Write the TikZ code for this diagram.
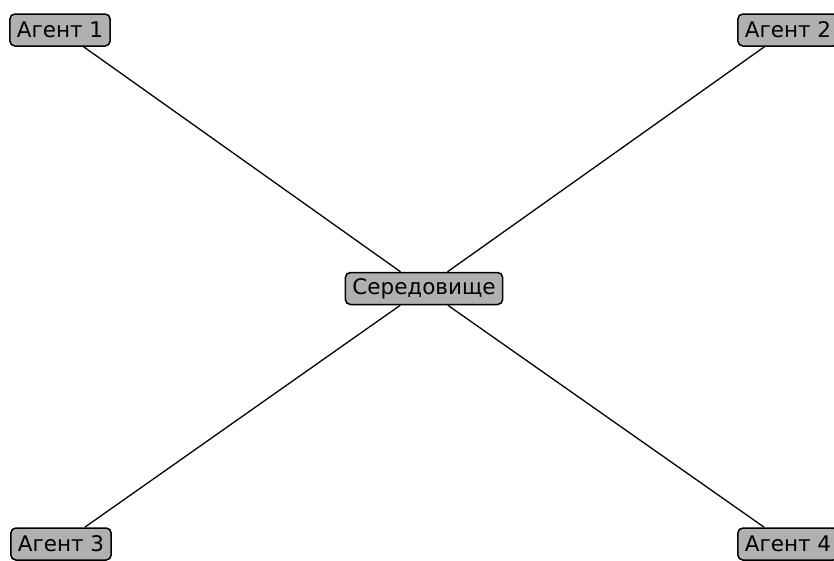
\documentclass[tikz,border=0pt]{standalone}
\usepackage{fontspec}
\setmainfont{DejaVu Sans}
\begin{document}
\begin{tikzpicture}[x=1pt,y=-1pt,
  agent/.style={draw=black, line width=1.5pt, fill=gray!62, rounded corners=5pt,
    inner xsep=7pt, inner ysep=0pt, minimum height=32pt, font=\fontsize{21.5}{23}\selectfont},
  link/.style={draw=black, line width=1.3pt}]
\useasboundingbox (0,0) rectangle (834,560);
\node[agent] (a1) at (60,30) {Агент 1};
\node[agent] (a2) at (788,30) {Агент 2};
\node[agent] (a3) at (61,544) {Агент 3};
\node[agent] (a4) at (788,544) {Агент 4};
\node[agent] (c) at (424,288.5) {Середовище};
\draw[link] (a1) -- (c);
\draw[link] (a2) -- (c);
\draw[link] (a3) -- (c);
\draw[link] (a4) -- (c);
\end{tikzpicture}
\end{document}
